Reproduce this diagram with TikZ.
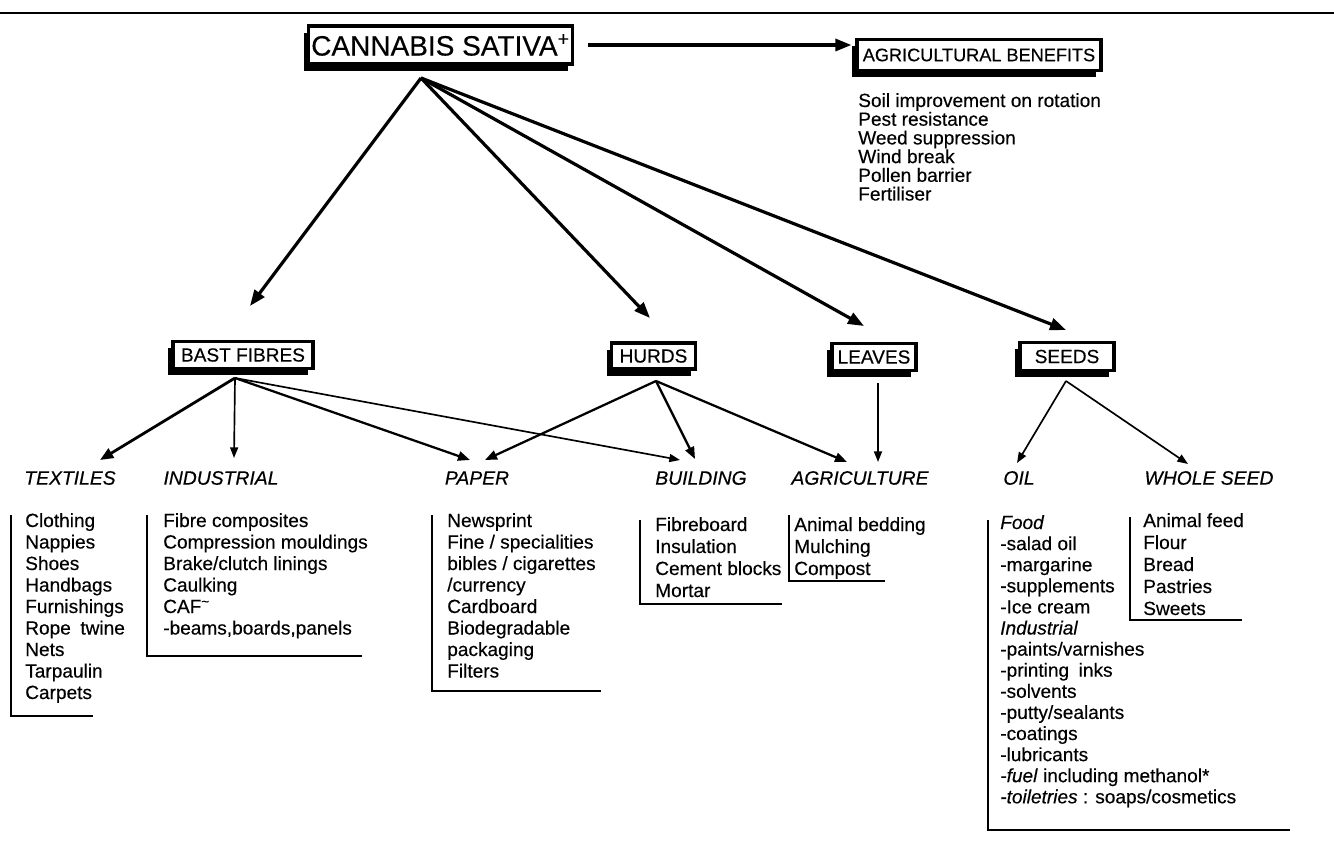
\documentclass[tikz,border=0pt]{standalone}
\usepackage{fontspec}
\setmainfont{Liberation Sans}[FakeBold=0.35]
\usetikzlibrary{arrows.meta,shadows}
\newcommand\upx{0.75pt}
\begin{document}
\begin{tikzpicture}[x=0.75pt,y=-0.75pt,
  lbl/.style={font=\fontsize{14.5}{17}\selectfont\itshape, inner sep=0},
  box/.style={draw, fill=white, line width=2.4pt, inner sep=0,
    font=\fontsize{14.3}{17}\selectfont,
    drop shadow={shadow xshift=-3.4pt, shadow yshift=-5pt, fill=black, opacity=1}},
  lst/.style={anchor=base west, inner sep=0, font=\fontsize{14.3}{17}\selectfont},
  brk/.style={line width=1.7pt},
  fat/.style={line width=2.4pt, -{Triangle[length=12pt,width=9pt]}},
  med/.style={line width=1.7pt, -{Triangle[length=9pt,width=7pt]}},
  thn/.style={line width=1.25pt, -{Triangle[length=8pt,width=6pt]}}]
\useasboundingbox (0,0) rectangle (1334,841);
\draw[line width=1.5pt] (0,13) -- (1334,13);

% boxes
\node[box, line width=2.8pt, font=\fontsize{21}{24}\selectfont, minimum width=264*\upx, minimum height=38*\upx] (cs) at (440.5,45) {CANNABIS SATIVA\textsuperscript{+}};
\node[box, font=\fontsize{13.6}{16}\selectfont, minimum width=244*\upx, minimum height=31*\upx] (ab) at (979,55) {AGRICULTURAL BENEFITS};
\node[box, minimum width=140*\upx, minimum height=27*\upx] (bf) at (243,355) {BAST FIBRES};
\node[box, minimum width=84*\upx, minimum height=26*\upx] (hu) at (653.5,356) {HURDS};
\node[box, minimum width=84*\upx, minimum height=27*\upx] (le) at (874,357) {LEAVES};
\node[box, minimum width=94*\upx, minimum height=28*\upx] (se) at (1067,356.5) {SEEDS};

% benefits
\foreach \t [count=\i from 0] in {Soil improvement on rotation,Pest resistance,Weed suppression,Wind break,Pollen barrier,Fertiliser}
  \node[lst] (ben\i) at (858,107+18.7*\i) {\t};

% level-2 labels
\node[lbl] (tex) at (70,478) {TEXTILES};
\node[lbl] (ind) at (221,478) {INDUSTRIAL};
\node[lbl] (pap) at (477,478) {PAPER};
\node[lbl] (bui) at (701,478) {BUILDING};
\node[lbl] (agr) at (860,478) {AGRICULTURE};
\node[lbl] (oil) at (1019,478) {OIL};
\node[lbl] (whs) at (1209,478) {WHOLE SEED};

% connectors from CANNABIS SATIVA
\coordinate (cso) at (421,78);
\coordinate (tbf) at (250,306);
\coordinate (thu) at (650,318);
\coordinate (tle) at (864,326);
\coordinate (tse) at (1066,330);
\draw[fat] (cso) -- (tbf);
\draw[fat] (cso) -- (thu);
\draw[fat] (cso) -- (tle);
\draw[fat] (cso) -- (tse);
\draw[fat, shorten <=10pt, shorten >=3pt] (cs.east) -- (cs.east -| ab.west);

% from BAST FIBRES
\coordinate (bfo) at (235,378);
\coordinate (ttex) at (100,460);
\coordinate (tind) at (234,458);
\coordinate (tpap1) at (470,460);
\coordinate (tbui1) at (680,460);
\draw[line width=2.1pt, -{Triangle[length=10pt,width=8pt]}] (bfo) -- (ttex);
\draw[thn] (bfo) -- (tind);
\draw[med] (bfo) -- (tpap1);
\draw[thn] (bfo) -- (tbui1);

% from HURDS
\coordinate (huo) at (656,381);
\coordinate (tpap2) at (485,460);
\coordinate (tbui2) at (695,459);
\coordinate (tagr1) at (847,462);
\draw[med] (huo) -- (tpap2);
\draw[med] (huo) -- (tbui2);
\draw[med] (huo) -- (tagr1);

% from LEAVES
\coordinate (leo) at (878,383);
\coordinate (tagr2) at (878,462);
\draw[thn] (leo) -- (tagr2);

% from SEEDS
\coordinate (seo) at (1066,381);
\coordinate (toil) at (1017,463);
\coordinate (twhs) at (1188,464);
\draw[thn] (seo) -- (toil);
\draw[thn] (seo) -- (twhs);

% lists
\foreach \t [count=\i from 0] in {Clothing,Nappies,Shoes,Handbags,Furnishings,Rope\hspace{0.5em}twine,Nets,Tarpaulin,Carpets}
  \node[lst] (ltex\i) at (25,527+21.5*\i) {\t};
\draw[brk] (11,515) -- (11,716) -- (93,716);

\foreach \t [count=\i from 0] in {Fibre composites,Compression mouldings,Brake/clutch linings,Caulking,CAF\textsuperscript{\textasciitilde},{-beams,boards,panels}}
  \node[lst] (lind\i) at (163,527+21.5*\i) {\t};
\draw[brk] (147,515) -- (147,656) -- (362,656);

\foreach \t [count=\i from 0] in {Newsprint,Fine / specialities,bibles / cigarettes,/currency,Cardboard,Biodegradable,packaging,Filters}
  \node[lst] (lpap\i) at (447,527+21.5*\i) {\t};
\draw[brk] (432,515) -- (432,691) -- (601,691);

\foreach \t [count=\i from 0] in {Fibreboard,Insulation,Cement blocks,Mortar}
  \node[lst] (lbui\i) at (655,531+22*\i) {\t};
\draw[brk] (640,520) -- (640,604) -- (782,604);

\foreach \t [count=\i from 0] in {Animal bedding,Mulching,Compost}
  \node[lst] (lagr\i) at (794,531+22*\i) {\t};
\draw[brk] (789,515) -- (789,581) -- (885,581);

\foreach \t [count=\i from 0] in {\textit{Food},-salad oil,-margarine,-supplements,-Ice cream,\textit{Industrial},-paints/varnishes,-printing\hspace{0.5em}inks,-solvents,-putty/sealants,-coatings,-lubricants,\textit{-fuel} including methanol*,\textit{-toiletries} : soaps/cosmetics}
  \node[lst] (loil\i) at (1000,529+21.1*\i) {\t};
\draw[brk] (988,520) -- (988,830) -- (1290,830);

\foreach \t [count=\i from 0] in {Animal feed,Flour,Bread,Pastries,Sweets}
  \node[lst] (lwhs\i) at (1143,527+22*\i) {\t};
\draw[brk] (1130,517) -- (1130,620) -- (1242,620);
\end{tikzpicture}
\end{document}
